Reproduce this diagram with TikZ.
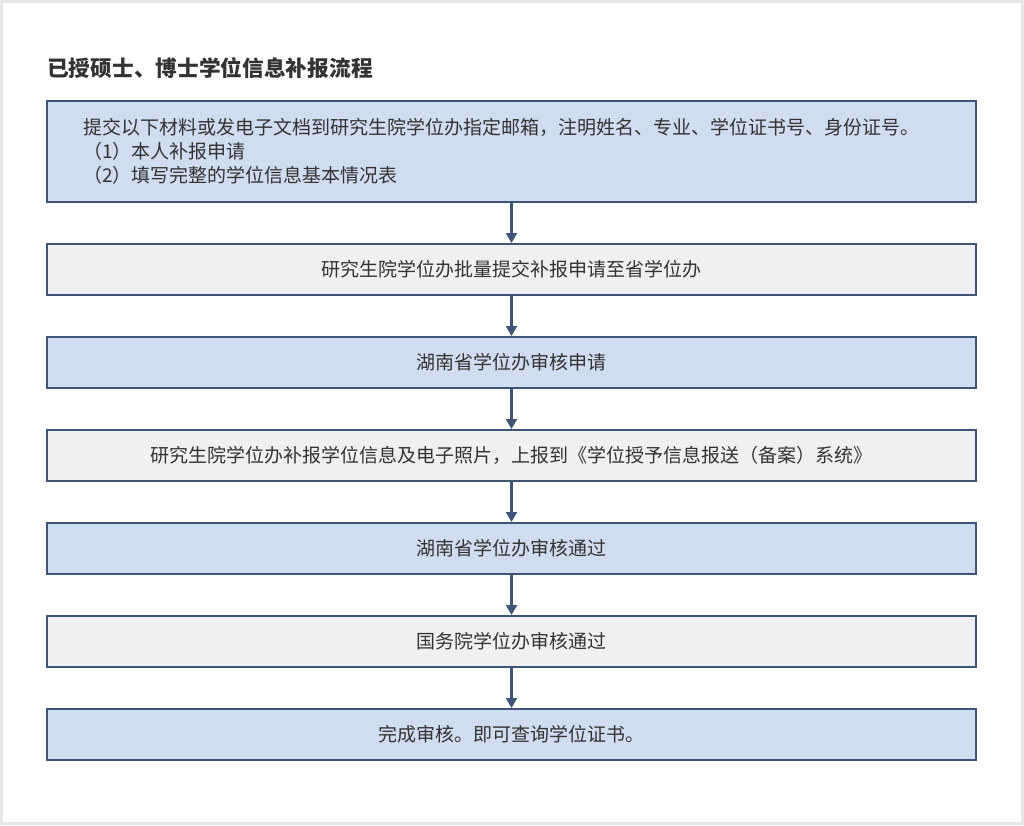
\documentclass[tikz,border=0pt]{standalone}
\usepackage{fontspec}
\setmainfont{Noto Sans CJK SC}
\usetikzlibrary{arrows.meta}
\definecolor{blueF}{HTML}{D0DCEF}
\definecolor{grayF}{HTML}{F0F0F2}
\definecolor{edgeC}{HTML}{3F5578}
\definecolor{txtC}{HTML}{333333}
\definecolor{frameC}{HTML}{E6E6E6}
\tikzset{
  flowbox/.style={draw=edgeC, line width=2pt, minimum width=929pt, minimum height=51pt, inner sep=0pt, text=txtC, font=\fontsize{19}{23.5}\selectfont},
  bluebox/.style={flowbox, fill=blueF},
  graybox/.style={flowbox, fill=grayF},
  flowarrow/.style={draw=edgeC, line width=2.2pt, -{Triangle[width=11pt,length=10pt]}}
}
\begin{document}
\begin{tikzpicture}[x=1pt,y=-1pt]
\fill[white] (0,0) rectangle (1024,825);
\draw[frameC, line width=3pt] (1.5,1.5) rectangle (1022.5,823.5);
\useasboundingbox (0,0) rectangle (1024,825);
\node[anchor=base west, text=txtC, font=\bfseries\fontsize{21.7}{25}\selectfont, inner sep=0pt] (title) at (47,76) {已授硕士、博士学位信息补报流程};
\node[bluebox, minimum height=101pt, text width=857pt, inner xsep=36pt, align=left, font=\fontsize{19}{24}\selectfont] (b1) at (511.5,151.5) {\raisebox{-2pt}{提交以下材料或发电子文档到研究生院学位办指定邮箱，注明姓名、专业、学位证书号、身份证号。}\\\raisebox{-2pt}{（1）本人补报申请}\\\raisebox{-2pt}{（2）填写完整的学位信息基本情况表}};
\node[graybox] (b2) at (511.5,269.5) {研究生院学位办批量提交补报申请至省学位办};
\node[bluebox] (b3) at (511.5,362.5) {湖南省学位办审核申请};
\node[graybox] (b4) at (511.5,455.5) {研究生院学位办补报学位信息及电子照片，上报到《学位授予信息报送（备案）系统》};
\node[bluebox] (b5) at (511.5,548.5) {湖南省学位办审核通过};
\node[graybox] (b6) at (511.5,641.5) {国务院学位办审核通过};
\node[bluebox] (b7) at (511.5,734.5) {完成审核。即可查询学位证书。};
\foreach \a/\b in {b1/b2,b2/b3,b3/b4,b4/b5,b5/b6,b6/b7}
  \draw[flowarrow] (\a.south) -- (\b.north);
\end{tikzpicture}
\end{document}
